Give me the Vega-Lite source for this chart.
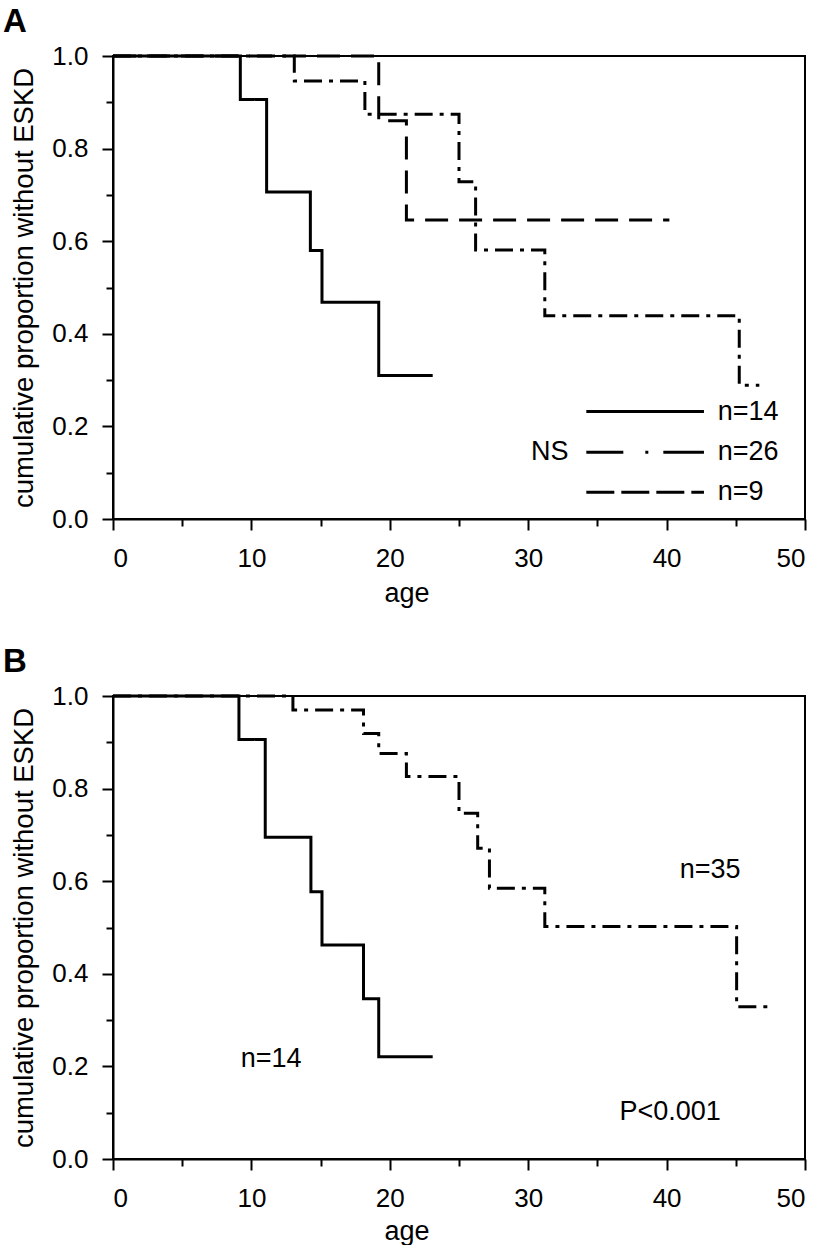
{
  "$schema": "https://vega.github.io/schema/vega-lite/v6.json",
  "background": "white",
  "padding": {"left": 2, "top": 5, "right": 0, "bottom": 0},
  "spacing": 177,
  "bounds": "flush",
  "resolve": {"scale": {"strokeDash": "shared"}},
  "config": {
    "font": "Liberation Sans",
    "view": {"stroke": "black", "strokeWidth": 2},
    "axis": {
      "grid": false,
      "domainColor": "black",
      "domainWidth": 2,
      "tickColor": "black",
      "tickWidth": 2,
      "labelColor": "black",
      "labelFont": "Liberation Sans",
      "labelFontSize": 26,
      "titleColor": "black",
      "titleFont": "Liberation Sans",
      "titleFontWeight": "normal"
    },
    "title": {"font": "Liberation Sans", "fontSize": 33, "fontWeight": "bold", "color": "black"}
  },
  "datasets": {
    "curvesA": [
      {"grp": "s14", "age": 0, "p": 1},
      {"grp": "s14", "age": 9.2, "p": 0.906},
      {"grp": "s14", "age": 11.1, "p": 0.706},
      {"grp": "s14", "age": 14.26, "p": 0.58},
      {"grp": "s14", "age": 15.1, "p": 0.468},
      {"grp": "s14", "age": 19.2, "p": 0.31},
      {"grp": "s14", "age": 23.1, "p": 0.31},
      {"grp": "dd26", "age": 0, "p": 1},
      {"grp": "dd26", "age": 13.1, "p": 0.946},
      {"grp": "dd26", "age": 18.2, "p": 0.874},
      {"grp": "dd26", "age": 25.0, "p": 0.7285},
      {"grp": "dd26", "age": 26.2, "p": 0.581},
      {"grp": "dd26", "age": 31.2, "p": 0.439},
      {"grp": "dd26", "age": 45.25, "p": 0.289},
      {"grp": "dd26", "age": 46.7, "p": 0.289},
      {"grp": "d9", "age": 0, "p": 1},
      {"grp": "d9", "age": 19.2, "p": 0.86},
      {"grp": "d9", "age": 21.2, "p": 0.646},
      {"grp": "d9", "age": 40.2, "p": 0.646}
    ],
    "legendA": [
      {"grp": "leg_s", "age": 34.2, "age2": 42.7, "p": 0.232},
      {"grp": "leg_dd", "age": 34.2, "age2": 42.7, "p": 0.144},
      {"grp": "leg_d", "age": 34.2, "age2": 42.7, "p": 0.058}
    ],
    "textA": [
      {"label": "n=14", "age": 43.69, "p": 0.232},
      {"label": "n=26", "age": 43.69, "p": 0.144},
      {"label": "n=9", "age": 43.69, "p": 0.058},
      {"label": "NS", "age": 30.2, "p": 0.145}
    ],
    "curvesB": [
      {"grp": "s14", "age": 0, "p": 1},
      {"grp": "s14", "age": 9.1, "p": 0.906},
      {"grp": "s14", "age": 11.0, "p": 0.695},
      {"grp": "s14", "age": 14.3, "p": 0.577},
      {"grp": "s14", "age": 15.1, "p": 0.462},
      {"grp": "s14", "age": 18.1, "p": 0.346},
      {"grp": "s14", "age": 19.2, "p": 0.221},
      {"grp": "s14", "age": 23.1, "p": 0.221},
      {"grp": "dd35", "age": 0, "p": 1},
      {"grp": "dd35", "age": 13.0, "p": 0.97},
      {"grp": "dd35", "age": 18.1, "p": 0.919},
      {"grp": "dd35", "age": 19.2, "p": 0.876},
      {"grp": "dd35", "age": 21.2, "p": 0.826},
      {"grp": "dd35", "age": 25.0, "p": 0.747},
      {"grp": "dd35", "age": 26.35, "p": 0.671},
      {"grp": "dd35", "age": 27.2, "p": 0.585},
      {"grp": "dd35", "age": 31.2, "p": 0.502},
      {"grp": "dd35", "age": 45.06, "p": 0.329},
      {"grp": "dd35", "age": 47.4, "p": 0.329}
    ],
    "textB": [
      {"label": "n=35", "age": 43.15, "p": 0.624},
      {"label": "n=14", "age": 11.42, "p": 0.216},
      {"label": "P<0.001", "age": 40.25, "p": 0.102}
    ]
  },
  "vconcat": [
    {
      "width": 692,
      "height": 463,
      "title": {"text": "A", "anchor": "start", "frame": "group", "dx": -110, "dy": 32, "baseline": "alphabetic", "offset": 10, "fontSize": 33, "fontWeight": "bold"},
      "encoding": {
        "x": {
          "field": "age", "type": "quantitative",
          "scale": {"domain": [0, 50], "nice": false, "zero": false},
          "axis": {
            "title": "age",
            "values": [0, 5, 10, 15, 20, 25, 30, 35, 40, 45, 50],
            "labelExpr": "datum.value % 10 === 0 ? datum.label : ''",
            "tickSize": {"condition": {"test": "datum.value % 10 === 0", "value": 11}, "value": 7},
            "labelPadding": 15,
            "labelBaseline": "top",
            "titleFontSize": 27,
            "titleX": 293.5,
            "titleY": 82,
            "titleAlign": "center",
            "titleBaseline": "alphabetic"
          }
        },
        "y": {
          "field": "p", "type": "quantitative",
          "scale": {"domain": [0, 1], "nice": false, "zero": false},
          "axis": {
            "title": "cumulative proportion without ESKD",
            "values": [0, 0.1, 0.2, 0.3, 0.4, 0.5, 0.6, 0.7, 0.8, 0.9, 1.0],
            "format": ".1f",
            "labelExpr": "round(datum.value * 10) % 2 === 0 ? datum.label : ''",
            "tickSize": {"condition": {"test": "round(datum.value * 10) % 2 === 0", "value": 11}, "value": 7},
            "labelPadding": 14,
            "titleFontSize": 27.5,
            "titlePadding": 13
          }
        }
      },
      "layer": [
        {
          "data": {"name": "curvesA"},
          "mark": {"type": "line", "interpolate": "step-after", "strokeWidth": 3, "color": "black"},
          "encoding": {
            "detail": {"field": "grp"},
            "strokeDash": {
              "field": "grp", "type": "nominal", "legend": null,
              "scale": {"domain": ["s14", "dd26", "d9", "dd35", "leg_s", "leg_dd", "leg_d"], "range": [[1, 0], [18, 7, 4, 7], [23, 11], [18, 7, 4, 7], [1, 0], [37, 22, 3, 15, 45, 5], [28, 7]]}
            }
          }
        },
        {
          "data": {"name": "legendA"},
          "mark": {"type": "rule", "strokeWidth": 3, "color": "black"},
          "encoding": {
            "x2": {"field": "age2"},
            "strokeDash": {
              "field": "grp", "type": "nominal", "legend": null,
              "scale": {"domain": ["s14", "dd26", "d9", "dd35", "leg_s", "leg_dd", "leg_d"], "range": [[1, 0], [18, 7, 4, 7], [23, 11], [18, 7, 4, 7], [1, 0], [37, 22, 3, 15, 45, 5], [28, 7]]}
            }
          }
        },
        {
          "data": {"name": "textA"},
          "mark": {"type": "text", "fontSize": 27, "baseline": "middle", "align": "left", "color": "black", "font": "Liberation Sans"},
          "encoding": {
            "text": {"field": "label"}
          }
        }
      ]
    },
    {
      "width": 692,
      "height": 463,
      "title": {"text": "B", "anchor": "start", "frame": "group", "dx": -110, "dy": 32, "baseline": "alphabetic", "offset": 10, "fontSize": 33, "fontWeight": "bold"},
      "encoding": {
        "x": {
          "field": "age", "type": "quantitative",
          "scale": {"domain": [0, 50], "nice": false, "zero": false},
          "axis": {
            "title": "age",
            "values": [0, 5, 10, 15, 20, 25, 30, 35, 40, 45, 50],
            "labelExpr": "datum.value % 10 === 0 ? datum.label : ''",
            "tickSize": {"condition": {"test": "datum.value % 10 === 0", "value": 11}, "value": 7},
            "labelPadding": 15,
            "labelBaseline": "top",
            "titleFontSize": 27,
            "titleX": 293.5,
            "titleY": 80,
            "titleAlign": "center",
            "titleBaseline": "alphabetic"
          }
        },
        "y": {
          "field": "p", "type": "quantitative",
          "scale": {"domain": [0, 1], "nice": false, "zero": false},
          "axis": {
            "title": "cumulative proportion without ESKD",
            "values": [0, 0.1, 0.2, 0.3, 0.4, 0.5, 0.6, 0.7, 0.8, 0.9, 1.0],
            "format": ".1f",
            "labelExpr": "round(datum.value * 10) % 2 === 0 ? datum.label : ''",
            "tickSize": {"condition": {"test": "round(datum.value * 10) % 2 === 0", "value": 11}, "value": 7},
            "labelPadding": 14,
            "titleFontSize": 27.5,
            "titlePadding": 13
          }
        }
      },
      "layer": [
        {
          "data": {"name": "curvesB"},
          "mark": {"type": "line", "interpolate": "step-after", "strokeWidth": 3, "color": "black"},
          "encoding": {
            "detail": {"field": "grp"},
            "strokeDash": {
              "field": "grp", "type": "nominal", "legend": null,
              "scale": {"domain": ["s14", "dd26", "d9", "dd35", "leg_s", "leg_dd", "leg_d"], "range": [[1, 0], [18, 7, 4, 7], [23, 11], [18, 7, 4, 7], [1, 0], [37, 22, 3, 15, 45, 5], [28, 7]]}
            }
          }
        },
        {
          "data": {"name": "textB"},
          "mark": {"type": "text", "fontSize": 27, "baseline": "middle", "align": "center", "color": "black", "font": "Liberation Sans"},
          "encoding": {
            "text": {"field": "label"}
          }
        }
      ]
    }
  ]
}
